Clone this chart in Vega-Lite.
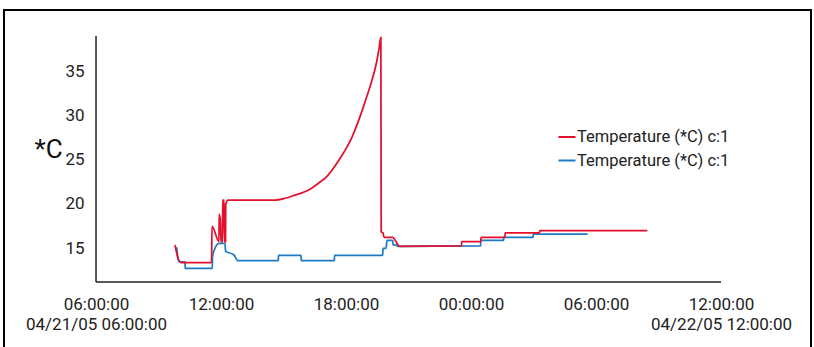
{
  "$schema": "https://vega.github.io/schema/vega-lite/v6.json",
  "width": 807,
  "height": 370,
  "padding": {"left": 4, "top": 10, "right": 3, "bottom": 0},
  "autosize": {"type": "pad"},
  "background": "white",
  "config": {
    "view": {"stroke": "#000", "strokeWidth": 2},
    "font": "Roboto"
  },
  "datasets": {
    "temps": [
      {"series": "b", "time": "2005-04-21T09:52:25", "value": 15.08},
      {"series": "b", "time": "2005-04-21T09:57:00", "value": 13.64},
      {"series": "b", "time": "2005-04-21T10:01:50", "value": 13.42},
      {"series": "b", "time": "2005-04-21T10:16:20", "value": 13.42},
      {"series": "b", "time": "2005-04-21T10:16:50", "value": 12.71},
      {"series": "b", "time": "2005-04-21T11:34:55", "value": 12.71},
      {"series": "b", "time": "2005-04-21T11:35:30", "value": 14.10},
      {"series": "b", "time": "2005-04-21T11:54:15", "value": 15.51},
      {"series": "b", "time": "2005-04-21T12:11:25", "value": 15.51},
      {"series": "b", "time": "2005-04-21T12:13:00", "value": 14.66},
      {"series": "b", "time": "2005-04-21T12:37:25", "value": 14.21},
      {"series": "b", "time": "2005-04-21T12:48:05", "value": 13.57},
      {"series": "b", "time": "2005-04-21T14:45:00", "value": 13.57},
      {"series": "b", "time": "2005-04-21T14:45:35", "value": 14.18},
      {"series": "b", "time": "2005-04-21T15:50:25", "value": 14.18},
      {"series": "b", "time": "2005-04-21T15:51:00", "value": 13.57},
      {"series": "b", "time": "2005-04-21T17:26:25", "value": 13.57},
      {"series": "b", "time": "2005-04-21T17:27:00", "value": 14.18},
      {"series": "b", "time": "2005-04-21T19:45:40", "value": 14.18},
      {"series": "b", "time": "2005-04-21T19:46:40", "value": 14.97},
      {"series": "b", "time": "2005-04-21T19:55:10", "value": 14.97},
      {"series": "b", "time": "2005-04-21T19:58:05", "value": 15.85},
      {"series": "b", "time": "2005-04-21T20:14:30", "value": 15.85},
      {"series": "b", "time": "2005-04-21T20:15:20", "value": 15.34},
      {"series": "b", "time": "2005-04-21T20:22:40", "value": 15.34},
      {"series": "b", "time": "2005-04-21T20:29:50", "value": 15.19},
      {"series": "b", "time": "2005-04-22T00:27:35", "value": 15.23},
      {"series": "b", "time": "2005-04-22T00:28:10", "value": 15.85},
      {"series": "b", "time": "2005-04-22T01:33:35", "value": 15.85},
      {"series": "b", "time": "2005-04-22T01:34:10", "value": 16.19},
      {"series": "b", "time": "2005-04-22T02:58:50", "value": 16.19},
      {"series": "b", "time": "2005-04-22T02:59:20", "value": 16.58},
      {"series": "b", "time": "2005-04-22T05:36:00", "value": 16.58},
      {"series": "r", "time": "2005-04-21T09:47:30", "value": 15.34},
      {"series": "r", "time": "2005-04-21T09:56:10", "value": 13.87},
      {"series": "r", "time": "2005-04-21T10:04:50", "value": 13.36},
      {"series": "r", "time": "2005-04-21T11:32:40", "value": 13.36},
      {"series": "r", "time": "2005-04-21T11:34:05", "value": 17.43},
      {"series": "r", "time": "2005-04-21T11:54:15", "value": 15.73},
      {"series": "r", "time": "2005-04-21T11:54:35", "value": 18.84},
      {"series": "r", "time": "2005-04-21T11:58:35", "value": 17.94},
      {"series": "r", "time": "2005-04-21T12:00:00", "value": 15.68},
      {"series": "r", "time": "2005-04-21T12:04:20", "value": 15.68},
      {"series": "r", "time": "2005-04-21T12:04:50", "value": 20.42},
      {"series": "r", "time": "2005-04-21T12:08:40", "value": 20.42},
      {"series": "r", "time": "2005-04-21T12:10:05", "value": 15.68},
      {"series": "r", "time": "2005-04-21T12:13:00", "value": 15.68},
      {"series": "r", "time": "2005-04-21T12:13:35", "value": 19.97},
      {"series": "r", "time": "2005-04-21T12:20:10", "value": 20.42},
      {"series": "r", "time": "2005-04-21T14:35:30", "value": 20.42},
      {"series": "r", "time": "2005-04-21T15:04:15", "value": 20.62},
      {"series": "r", "time": "2005-04-21T15:28:15", "value": 20.91},
      {"series": "r", "time": "2005-04-21T16:16:20", "value": 21.63},
      {"series": "r", "time": "2005-04-21T16:39:40", "value": 22.29},
      {"series": "r", "time": "2005-04-21T17:04:20", "value": 23.06},
      {"series": "r", "time": "2005-04-21T17:28:20", "value": 24.27},
      {"series": "r", "time": "2005-04-21T17:52:10", "value": 25.70},
      {"series": "r", "time": "2005-04-21T18:17:20", "value": 27.54},
      {"series": "r", "time": "2005-04-21T18:40:20", "value": 29.84},
      {"series": "r", "time": "2005-04-21T18:54:40", "value": 31.50},
      {"series": "r", "time": "2005-04-21T19:09:00", "value": 33.23},
      {"series": "r", "time": "2005-04-21T19:28:20", "value": 36.05},
      {"series": "r", "time": "2005-04-21T19:35:00", "value": 37.49},
      {"series": "r", "time": "2005-04-21T19:40:20", "value": 38.79},
      {"series": "r", "time": "2005-04-21T19:41:20", "value": 16.84},
      {"series": "r", "time": "2005-04-21T19:46:40", "value": 16.69},
      {"series": "r", "time": "2005-04-21T19:49:20", "value": 16.21},
      {"series": "r", "time": "2005-04-21T20:14:30", "value": 16.21},
      {"series": "r", "time": "2005-04-21T20:21:10", "value": 15.90},
      {"series": "r", "time": "2005-04-21T20:29:50", "value": 15.34},
      {"series": "r", "time": "2005-04-21T20:35:30", "value": 15.19},
      {"series": "r", "time": "2005-04-21T23:32:40", "value": 15.25},
      {"series": "r", "time": "2005-04-21T23:33:10", "value": 15.71},
      {"series": "r", "time": "2005-04-22T00:28:10", "value": 15.71},
      {"series": "r", "time": "2005-04-22T00:28:40", "value": 16.21},
      {"series": "r", "time": "2005-04-22T01:37:50", "value": 16.21},
      {"series": "r", "time": "2005-04-22T01:38:20", "value": 16.72},
      {"series": "r", "time": "2005-04-22T03:17:20", "value": 16.72},
      {"series": "r", "time": "2005-04-22T03:17:50", "value": 16.95},
      {"series": "r", "time": "2005-04-22T08:27:40", "value": 16.95}
    ]
  },
  "layer": [
    {
      "data": {"values": [{}]},
      "mark": {"type": "rule", "color": "#222", "strokeWidth": 1.5},
      "encoding": {
        "x": {"datum": {"year": 2005, "month": 4, "date": 21, "hours": 6}, "type": "temporal"},
        "y": {"datum": 11.15},
        "y2": {"datum": 38.95}
      }
    },
    {
      "data": {"values": [{}]},
      "mark": {"type": "rule", "color": "#222", "strokeWidth": 1.5},
      "encoding": {
        "x": {"datum": {"year": 2005, "month": 4, "date": 21, "hours": 6}, "type": "temporal"},
        "x2": {"datum": {"year": 2005, "month": 4, "date": 22, "hours": 12}},
        "y": {"datum": 11.15}
      }
    },
    {
      "data": {"name": "temps"},
      "mark": {"type": "line", "strokeWidth": 1.75, "clip": true, "interpolate": "monotone"},
      "encoding": {
        "x": {
          "field": "time",
          "type": "temporal",
          "scale": {
            "domain": [
              {"year": 2005, "month": 4, "date": 21, "hours": 1, "minutes": 35},
              {"year": 2005, "month": 4, "date": 22, "hours": 16, "minutes": 19, "seconds": 10}
            ],
            "nice": false
          },
          "axis": {
            "orient": "bottom",
            "offset": -98,
            "domain": false,
            "ticks": false,
            "tickSize": 0,
            "grid": false,
            "title": null,
            "labelFlush": false,
            "labelOverlap": false,
            "labelPadding": 14,
            "labelFont": "Roboto",
            "labelFontSize": 17,
            "labelColor": "#222",
            "labelLineHeight": 20,
            "values": [
              {"year": 2005, "month": 4, "date": 21, "hours": 6},
              {"year": 2005, "month": 4, "date": 21, "hours": 12},
              {"year": 2005, "month": 4, "date": 21, "hours": 18},
              {"year": 2005, "month": 4, "date": 22, "hours": 0},
              {"year": 2005, "month": 4, "date": 22, "hours": 6},
              {"year": 2005, "month": 4, "date": 22, "hours": 12}
            ],
            "labelExpr": "(datum.index == 0 || datum.index == 1) ? [timeFormat(datum.value, '%H:%M:%S'), timeFormat(datum.value, '%m/%d/%y %H:%M:%S')] : timeFormat(datum.value, '%H:%M:%S')"
          }
        },
        "y": {
          "field": "value",
          "type": "quantitative",
          "scale": {"domain": [0.085, 41.893], "nice": false, "zero": false},
          "axis": {
            "orient": "left",
            "offset": -92,
            "domain": false,
            "ticks": false,
            "tickSize": 0,
            "grid": false,
            "values": [15, 20, 25, 30, 35],
            "labelPadding": 12,
            "labelFont": "Roboto",
            "labelFontSize": 17,
            "labelColor": "#222",
            "title": "*C",
            "titleFont": "Roboto",
            "titleFontSize": 26,
            "titleFontWeight": "normal",
            "titleColor": "#111",
            "titleAngle": 0,
            "titleAlign": "center",
            "titleBaseline": "alphabetic",
            "titleX": -48,
            "titleY": 147
          }
        },
        "color": {
          "field": "series",
          "type": "nominal",
          "scale": {"domain": ["r", "b"], "range": ["#e3102c", "#1f7ac4"]},
          "legend": {
            "orient": "none",
            "legendX": 553,
            "legendY": 117,
            "title": null,
            "padding": 0,
            "symbolType": "stroke",
            "symbolSize": 290,
            "symbolStrokeWidth": 2,
            "labelFont": "Roboto",
            "labelFontSize": 16.5,
            "labelColor": "#222",
            "labelOffset": 0,
            "rowPadding": 4.5,
            "labelExpr": "'Temperature (*C) c:1'"
          }
        }
      }
    }
  ]
}
